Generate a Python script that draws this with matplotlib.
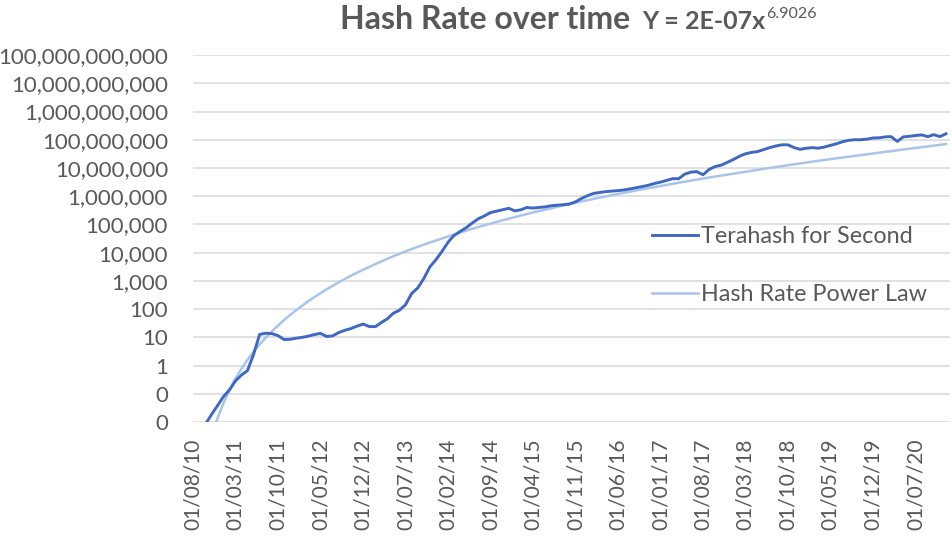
import matplotlib
matplotlib.use("Agg")
import matplotlib.pyplot as plt
import matplotlib.ticker as mticker
import pandas as pd

# monthly hash rate (TH/s), Aug 2010 .. Dec 2020
start = "2010-08-01"
hash_rate = [
    0.002, 0.004, 0.008, 0.018, 0.037, 0.08, 0.14, 0.28, 0.46, 0.66,
    2.5, 12.6, 14, 13.5, 11.5, 8.3, 8.5, 9.3, 10, 11,
    12.5, 13.8, 10.7, 11.2, 14.8, 17.8, 20.4, 25, 29.5, 24,
    24, 33, 45, 71, 91, 141, 355, 562, 1200, 3160,
    5600, 11200, 24000, 40000, 56000, 76000, 112000, 158000, 200000, 263000,
    295000, 331000, 372000, 302000, 331000, 398000, 380000, 398000, 417000, 457000,
    479000, 500000, 525000, 631000, 832000, 1.05e6, 1.26e6, 1.35e6, 1.45e6, 1.51e6,
    1.58e6, 1.66e6, 1.82e6, 2.0e6, 2.19e6, 2.45e6, 2.82e6, 3.16e6, 3.63e6, 4.17e6,
    4.17e6, 6.0e6, 7.1e6, 7.4e6, 5.75e6, 8.9e6, 1.12e7, 1.26e7, 1.58e7, 2.0e7,
    2.63e7, 3.16e7, 3.55e7, 3.8e7, 4.47e7, 5.25e7, 6.0e7, 6.6e7, 6.6e7, 5.25e7,
    4.57e7, 5.0e7, 5.25e7, 5.0e7, 5.5e7, 6.3e7, 7.2e7, 8.5e7, 9.5e7, 1.0e8,
    1.0e8, 1.05e8, 1.15e8, 1.17e8, 1.26e8, 1.29e8, 8.7e7, 1.26e8, 1.32e8, 1.41e8,
    1.48e8, 1.29e8, 1.51e8, 1.29e8, 1.62e8,
]

# power law trend line, read at these month offsets from Aug 2010
power_law_month = [3, 4, 5, 6, 7, 8, 9, 10, 11, 12, 13, 14, 15, 16, 17, 18, 19, 20,
                   22, 24, 26, 28, 30, 33, 36, 39, 42, 45, 48, 52, 56, 60, 64, 68,
                   72, 76, 80, 85, 90, 95, 100, 105, 110, 117, 124]
power_law = [0.003, 0.013, 0.047, 0.136, 0.34, 0.77, 1.6, 3.1, 5.6, 9.8, 16.3, 26,
             41, 62, 92, 134, 191, 268, 500, 891, 1520, 2480, 3940, 7450, 13400,
             22900, 37700, 60000, 93000, 160000, 264000, 420000, 653000, 986000,
             1.46e6, 2.1e6, 3.0e6, 4.6e6, 6.8e6, 1.0e7, 1.45e7, 2.05e7, 2.85e7,
             4.5e7, 7.0e7]

y_ticks = [0.01, 0.1, 1, 10, 100, 1e3, 1e4, 1e5, 1e6, 1e7, 1e8, 1e9, 1e10, 1e11]

months = pd.date_range(start, periods=len(hash_rate), freq="MS")
pl_dates = months[power_law_month]
tick_dates = pd.date_range(start, periods=18, freq="7MS")

plt.rcParams["font.family"] = ["Lato", "DejaVu Sans"]
text_col = "#595959"

fig = plt.figure(figsize=(9.53, 5.36), dpi=100)
ax = fig.add_axes([0.2025, 0.2127, 0.7945, 0.6846])

ax.plot(months, hash_rate, color="#3F68C2", lw=2.1, label="Terahash for Second", zorder=3)
ax.plot(pl_dates, power_law, color="#A9C4EB", lw=1.8, label="Hash Rate Power Law", zorder=2)

ax.set_yscale("log")
ax.set_ylim(0.01, 1e11)
ax.set_yticks(y_ticks)
ax.yaxis.set_minor_locator(mticker.NullLocator())
ax.yaxis.set_major_formatter(mticker.FuncFormatter(lambda v, p: f"{v:,.0f}"))
ax.set_xlim(pd.Timestamp("2010-08-01"), pd.Timestamp("2020-12-22"))
ax.set_xticks(tick_dates)
ax.set_xticklabels([d.strftime("%d/%m/%y") for d in tick_dates], rotation=90)

ax.grid(axis="y", color="#D9D9D9", lw=1.1)
ax.set_axisbelow(True)
for s in ax.spines.values():
    s.set_visible(False)
ax.tick_params(axis="y", length=0, pad=18, labelsize=16, labelcolor=text_col)
ax.tick_params(axis="x", length=0, pad=12, labelsize=15, labelcolor=text_col)

ax.legend(loc="upper left", bbox_to_anchor=(0.594, 0.56), frameon=False,
          fontsize=16.8, labelcolor=text_col, handlelength=1.95,
          handletextpad=0.15, labelspacing=1.6, borderaxespad=0)

# title pieces chained left to right
fig.canvas.draw()
r = fig.canvas.get_renderer()
t1 = fig.text(340 / 953, 1 - 29 / 536, "Hash Rate over time", fontsize=23,
              fontweight="bold", color=text_col, ha="left", va="baseline")
bb = t1.get_window_extent(r)
t2 = fig.text((bb.x1 + 12) / 953, 1 - 29 / 536, "Y = 2E-07x", fontsize=18,
              fontweight="bold", color=text_col, ha="left", va="baseline")
bb2 = t2.get_window_extent(r)
fig.text((bb2.x1 + 1) / 953, 1 - 18 / 536, "6.9026", fontsize=11.5,
         color=text_col, ha="left", va="baseline")

fig.savefig("out.png", dpi=100)
